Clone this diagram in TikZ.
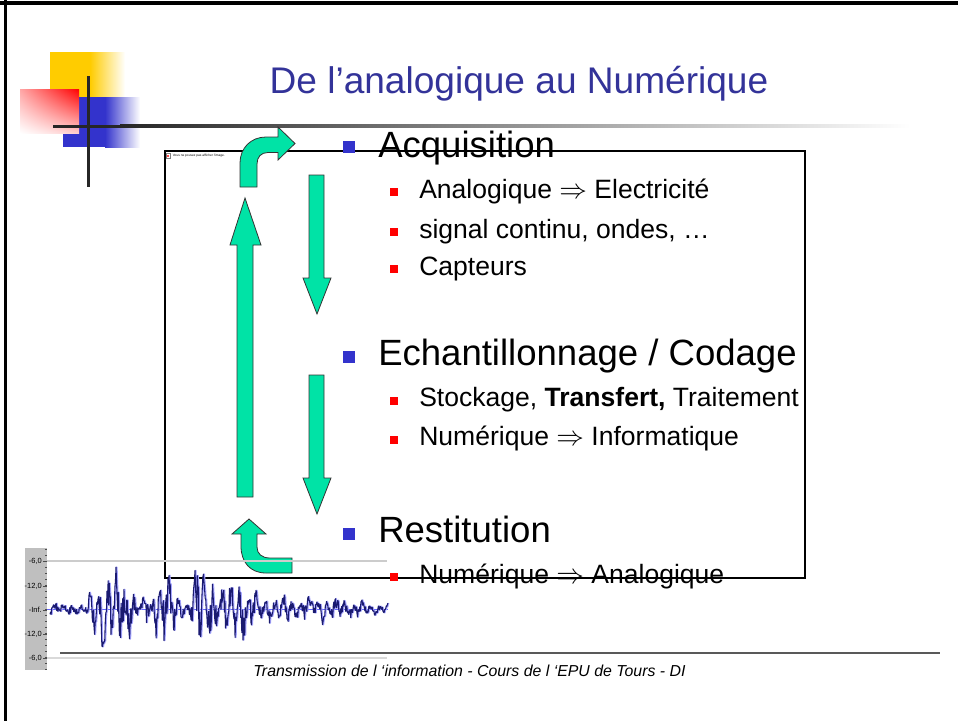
\documentclass[tikz,border=0pt]{standalone}
\usepackage{fontspec}
\setmainfont{Liberation Sans}
\usetikzlibrary{positioning,shadings}
\definecolor{titleblue}{HTML}{333399}
\definecolor{bulblue}{HTML}{3333CC}
\definecolor{arrowgreen}{HTML}{00E3A6}
\definecolor{decoyellow}{HTML}{FFCC00}
\definecolor{wavenavy}{HTML}{1A1A70}
\begin{document}
\begin{tikzpicture}[x=0.75pt,y=-0.75pt,
  greenarrow/.style={fill=arrowgreen,draw=black!80,line width=0.6pt,line join=miter},
  lvlone/.style={anchor=base west,inner sep=0pt,font=\fontsize{27.4}{30}\selectfont},
  lvltwo/.style={anchor=base west,inner sep=0pt,font=\fontsize{19.9}{22}\selectfont},
  bulone/.style={fill=bulblue},
  bultwo/.style={fill=red},
  scalelbl/.style={anchor=east,inner sep=0pt,font=\fontsize{5.6}{6}\selectfont},
  declare function={bump(\t,\c,\w)=max(0,1-((\t-\c)/\w)*((\t-\c)/\w));
    env(\t)=6+36*bump(\t,112,26)+30*bump(\t,162,22)+44*bump(\t,203,14)+24*bump(\t,235,25)+8*bump(\t,300,70);}]
\useasboundingbox (0,0) rectangle (958,721);
% slide frame
\fill (0,1) rectangle (958,5);
\fill (4,0) rectangle (7,721);
% corner decoration
\fill[decoyellow] (50,52) rectangle (90,100);
\shade[left color=decoyellow,right color=white] (90,52) rectangle (125,97);
\fill[bulblue] (63,97) rectangle (105,147);
\shade[left color=bulblue,right color=white] (105,97) rectangle (140,147);
\shade[upper left=red!35,upper right=red,lower left=white,lower right=red!20] (20,89) rectangle (79,133);
\fill[black!85] (53,124.5) rectangle (120,127.5);
\shade[left color=black!85,right color=white] (120,124.5) rectangle (910,127.5);
\fill[black!85] (86.5,76) rectangle (89.5,187);
% title
\node[anchor=base,inner sep=0pt,text=titleblue,font=\fontsize{27.8}{30}\selectfont] (title) at (519,93) {De l’analogique au Numérique};
% picture frame
\draw[line width=1.1pt] (165,151) rectangle (805,578);
\draw[black!50,line width=0.3pt,fill=white] (166,153.5) rectangle (170.5,158.5);
\fill[red!70] (167,155) rectangle (169,157);
\node[anchor=west,inner sep=0pt,font=\fontsize{2.4}{3}\selectfont] (noimg) at (172.5,156) {Vous ne pouvez pas afficher l’image.};
% block arrows
\draw[greenarrow] (240,187) -- (240,163) .. controls (240,148) and (251,137) .. (266,137) -- (278,137) -- (278,127) -- (295,143.5) -- (278,160) -- (278,152.5) -- (268,152.5) .. controls (261,152.5) and (257,157) .. (257,164) -- (257,187) -- cycle;
\draw[greenarrow] (237,497) -- (237,245) -- (230,245) -- (245,198) -- (261,245) -- (253,245) -- (253,497) -- cycle;
\draw[greenarrow] (309,175) -- (324,175) -- (324,278) -- (331,278) -- (317,314) -- (303,278) -- (309,278) -- cycle;
\draw[greenarrow] (309,375) -- (324,375) -- (324,478) -- (331,478) -- (317,514) -- (303,478) -- (309,478) -- cycle;
\draw[greenarrow] (241,534) -- (241,546) .. controls (241,562) and (250,573) .. (266,573) -- (292,573) -- (292,558) -- (270,558) .. controls (262,558) and (257,554) .. (257,547) -- (257,534) -- (266,534) -- (249,519) -- (232,534) -- cycle;
% bullet list
\fill[bulone] (343,141) rectangle (355,153);
\node[lvlone] (acq) at (378,157) {Acquisition};
\fill[bultwo] (390,188) rectangle (398,196);
\node[lvltwo] (ana) at (419,198) {Analogique $\Rightarrow$ Electricité};
\fill[bultwo] (390,228) rectangle (398,236);
\node[lvltwo] (sig) at (419,238) {signal continu, ondes, …};
\fill[bultwo] (390,265) rectangle (398,273);
\node[lvltwo] (capt) at (419,275) {Capteurs};
\fill[bulone] (343,351) rectangle (355,363);
\node[lvlone] (ech) at (378,365) {Echantillonnage / Codage};
\fill[bultwo] (390,397) rectangle (398,405);
\node[lvltwo] (stock) at (419,406) {Stockage, \textbf{Transfert,} Traitement};
\fill[bultwo] (390,436) rectangle (398,444);
\node[lvltwo] (num) at (419,445) {Numérique $\Rightarrow$ Informatique};
\fill[bulone] (343,528) rectangle (355,540);
\node[lvlone] (rest) at (378,542) {Restitution};
\fill[bultwo] (390,573) rectangle (398,581);
\node[lvltwo] (numana) at (419,583) {Numérique $\Rightarrow$ Analogique};
% signal plot
\fill[black!25] (25,548) rectangle (47,670);
\foreach \yy in {549,555,...,669}
  \draw[black!70,line width=0.4pt] (45,\yy) -- (47,\yy);
\foreach \lbl/\yy [count=\i] in {{-6,0}/561,{-12,0}/586,{-Inf.}/610,{-12,0}/634,{-6,0}/658} {
  \draw[black!70,line width=0.4pt] (43,\yy) -- (47,\yy);
  \node[scalelbl] (lbl\i) at (42,\yy) {\lbl};
}
\draw[black!20,line width=1pt] (47,561) -- (387,561);
\draw[black!15,line width=1.5pt] (47,658) -- (387,658);
\draw[blue!60,line width=0.8pt] (47,609.5) -- (388,609.5);
\pgfmathsetseed{42}
\draw[blue!35,line width=1.2pt,line join=round] plot[domain=50:388,samples=600] (\x+0.8,{609-env(\x)*(0.45*sin(41*\x)+0.2*sin(13*\x+30)+0.55*rand)});
\pgfmathsetseed{42}
\draw[wavenavy,line width=0.8pt,line join=round] plot[domain=50:388,samples=600] (\x,{609-env(\x)*(0.45*sin(41*\x)+0.2*sin(13*\x+30)+0.55*rand)});
% footer
\draw[black!65,line width=1.2pt] (60,653) -- (940,653);
\node[anchor=base,inner sep=0pt,font=\fontsize{11.9}{14}\selectfont\itshape] (foot) at (469.5,676) {Transmission de l ‘information - Cours de l ‘EPU de Tours - DI};
\end{tikzpicture}
\end{document}
